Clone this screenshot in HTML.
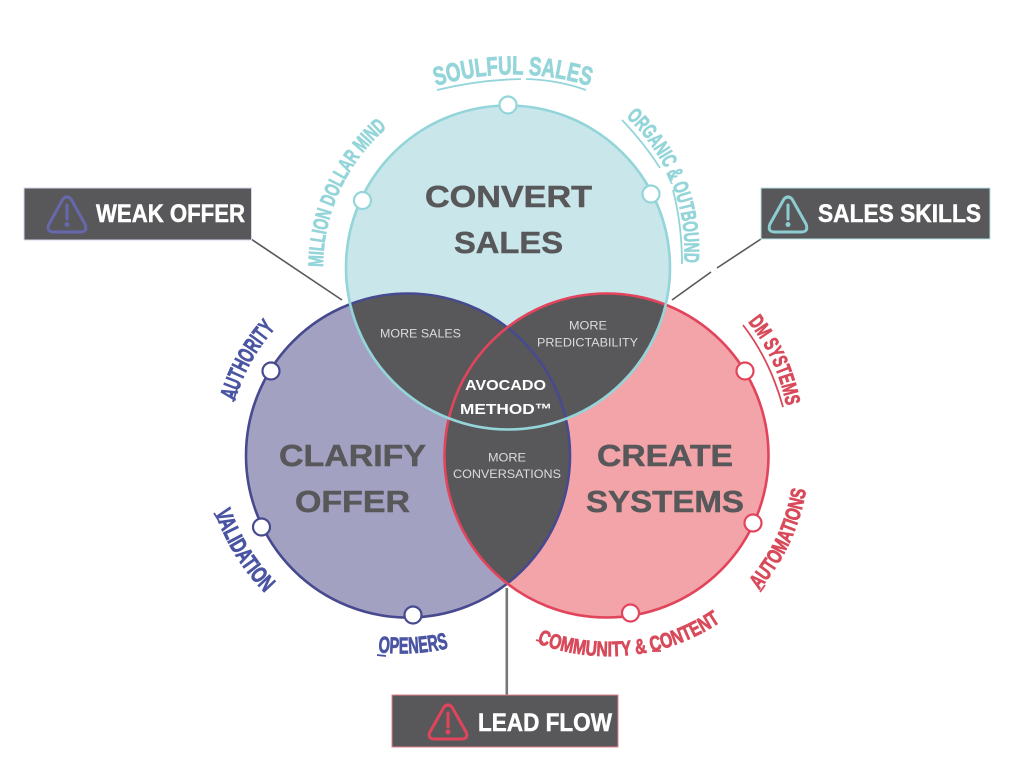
<!DOCTYPE html>
<html><head><meta charset="utf-8"><style>
html,body{margin:0;padding:0;background:#fff}
svg{display:block}
.big{font:bold 31px "Liberation Sans",sans-serif;fill:#58585a;stroke:#58585a;stroke-width:.5}
.sm{font:12px "Liberation Sans",sans-serif;fill:#dcdcdc}
.ctr{font:bold 15px "Liberation Sans",sans-serif;fill:#fff}
.box{font:bold 25px "Liberation Sans",sans-serif;fill:#fff;stroke:#fff;stroke-width:.5}
.arc{font-family:"Liberation Sans Narrow","Liberation Sans",sans-serif;font-weight:bold;stroke-width:.8}
</style></head><body>
<svg width="1024" height="768" viewBox="0 0 1024 768" xmlns="http://www.w3.org/2000/svg">
<defs>
<clipPath id="ct"><circle cx="508" cy="267.5" r="162"/></clipPath>
<clipPath id="cl"><circle cx="408" cy="455.5" r="162"/></clipPath>
<clipPath id="cr"><circle cx="606.5" cy="455.5" r="162"/></clipPath>
<path id="p1" d="M436 86 A260 260 0 0 1 590 86"/>
<path id="p2" d="M323 267 A185 185 0 0 1 389 126"/>
<path id="p3" d="M626 117 A180 180 0 0 1 684 265"/>
<path id="p4" d="M235 401 A185 185 0 0 1 273 331"/>
<path id="p5" d="M215 512 A210 210 0 0 0 265 593"/>
<path id="p6" d="M378 652 A205 205 0 0 0 449 648"/>
<path id="p7" d="M537 643 A200 200 0 0 0 719 623"/>
<path id="p8" d="M759 590 A202 202 0 0 0 806 490"/>
<path id="p9" d="M748 322 A185 185 0 0 1 786 405"/>
</defs>
<rect width="1024" height="768" fill="#fff"/>

<!-- connectors -->
<line x1="251" y1="239" x2="342" y2="300" stroke="#58585a" stroke-width="1.6"/>
<line x1="761" y1="239" x2="717" y2="268" stroke="#58585a" stroke-width="1.6"/>
<line x1="711" y1="272" x2="672" y2="300" stroke="#58585a" stroke-width="1.6"/>
<line x1="506.8" y1="588" x2="506.8" y2="696" stroke="#777" stroke-width="2.6"/>

<!-- circle fills -->
<circle cx="408" cy="455.5" r="162" fill="#a3a1c2"/>
<circle cx="606.5" cy="455.5" r="162" fill="#f3a4a9"/>
<circle cx="508" cy="267.5" r="162" fill="#c9e7ea"/>

<!-- overlaps -->
<g clip-path="url(#ct)"><circle cx="408" cy="455.5" r="162" fill="#58585a"/><circle cx="606.5" cy="455.5" r="162" fill="#58585a"/></g>
<g clip-path="url(#cl)"><circle cx="606.5" cy="455.5" r="162" fill="#58585a"/></g>

<!-- circle strokes -->
<circle cx="408" cy="455.5" r="162" fill="none" stroke="#474a8e" stroke-width="2.6"/>
<circle cx="606.5" cy="455.5" r="162" fill="none" stroke="#e2445c" stroke-width="2.6"/>
<circle cx="508" cy="267.5" r="162" fill="none" stroke="#94d5da" stroke-width="2.6"/>

<!-- dots -->
<g fill="#fff" stroke="#94d5da" stroke-width="2.2">
<circle cx="508" cy="105" r="8.5"/><circle cx="362.500" cy="200.500" r="8.5"/><circle cx="651" cy="194" r="8.5"/>
</g>
<g fill="#fff" stroke="#474a8e" stroke-width="2.2">
<circle cx="271" cy="371" r="8.5"/><circle cx="261.500" cy="527" r="8.5"/><circle cx="413" cy="615" r="8.5"/>
</g>
<g fill="#fff" stroke="#e2445c" stroke-width="2.2">
<circle cx="745" cy="371" r="8.5"/><circle cx="753" cy="523" r="8.5"/><circle cx="630.500" cy="613" r="8.5"/>
</g>

<!-- main labels -->
<text class="big" x="425" y="207" textLength="167" lengthAdjust="spacingAndGlyphs">CONVERT</text>
<text class="big" x="454" y="253" textLength="109" lengthAdjust="spacingAndGlyphs">SALES</text>
<text class="big" x="279" y="466" textLength="147" lengthAdjust="spacingAndGlyphs">CLARIFY</text>
<text class="big" x="295" y="512" textLength="115" lengthAdjust="spacingAndGlyphs">OFFER</text>
<text class="big" x="597" y="466" textLength="136" lengthAdjust="spacingAndGlyphs">CREATE</text>
<text class="big" x="586" y="512" textLength="158" lengthAdjust="spacingAndGlyphs">SYSTEMS</text>

<text class="sm" x="380" y="337.500" textLength="81" lengthAdjust="spacingAndGlyphs">MORE SALES</text>
<text class="sm" x="569" y="329.500" textLength="38" lengthAdjust="spacingAndGlyphs">MORE</text>
<text class="sm" x="537" y="346.500" textLength="101" lengthAdjust="spacingAndGlyphs">PREDICTABILITY</text>
<text class="sm" x="488" y="461.500" textLength="38" lengthAdjust="spacingAndGlyphs">MORE</text>
<text class="sm" x="453" y="478" textLength="108" lengthAdjust="spacingAndGlyphs">CONVERSATIONS</text>
<text class="ctr" x="465" y="390" textLength="81" lengthAdjust="spacingAndGlyphs">AVOCADO</text>
<text class="ctr" x="460" y="414" textLength="92" lengthAdjust="spacingAndGlyphs">METHOD™</text>

<!-- arc labels -->
<g class="arc" fill="#94d5da" stroke="#94d5da" font-size="26">
<text><textPath href="#p1" textLength="156" lengthAdjust="spacingAndGlyphs">SOULFUL SALES</textPath></text>
</g>
<g class="arc" fill="#94d5da" stroke="#94d5da" font-size="21">
<text><textPath href="#p2" textLength="158" lengthAdjust="spacingAndGlyphs">MILLION DOLLAR MIND</textPath></text>
<text><textPath href="#p3" textLength="162" lengthAdjust="spacingAndGlyphs">ORGANIC &amp; OUTBOUND</textPath></text>
</g>
<g class="arc" fill="#4a55a2" stroke="#4a55a2" font-size="23">
<text><textPath href="#p4" textLength="84" lengthAdjust="spacingAndGlyphs">AUTHORITY</textPath></text>
<text><textPath href="#p5" textLength="96" lengthAdjust="spacingAndGlyphs">VALIDATION</textPath></text>
<text><textPath href="#p6" textLength="71" lengthAdjust="spacingAndGlyphs">OPENERS</textPath></text>
</g>
<g class="arc" fill="#d84a5a" stroke="#d84a5a" font-size="21">
<text><textPath href="#p7" textLength="192" lengthAdjust="spacingAndGlyphs">COMMUNITY &amp; CONTENT</textPath></text>
<text><textPath href="#p8" textLength="112" lengthAdjust="spacingAndGlyphs">AUTOMATIONS</textPath></text>
<text><textPath href="#p9" textLength="93" lengthAdjust="spacingAndGlyphs">DM SYSTEMS</textPath></text>
</g>

<!-- arc underlines -->
<g fill="none" stroke-width="1.8" stroke-linecap="butt">
<g stroke="#94d5da">
<path d="M437 90 Q478 80 521 79"/><path d="M526 79 Q558 80 586 90"/>
<path d="M622 120 Q644 143 660 168"/><path d="M667 173 Q670 180 672 184"/><path d="M673 190 Q682 225 682 264"/>
</g>
<g stroke="#4a55a2">
<path d="M233 402 L238 385"/><path d="M214 513 L219 521"/><path d="M377 655 L386 656"/>
</g>
<g stroke="#d84a5a">
<path d="M536 640 L543 642"/><path d="M652 651 L661 651"/>
<path d="M760 592 L765 585"/><path d="M743 325 Q770 360 783 407"/>
</g>
</g>

<!-- boxes -->
<rect x="24" y="188" width="227.500" height="52" fill="#58585a" stroke="#d5d6ea" stroke-width="1"/>
<rect x="761" y="188" width="229" height="51" fill="#58585a" stroke="#b5e0e3" stroke-width="1"/>
<rect x="392" y="695" width="226" height="52" fill="#58585a" stroke="#e8808e" stroke-width="1"/>

<text class="box" x="96" y="222" textLength="149" lengthAdjust="spacingAndGlyphs">WEAK OFFER</text>
<text class="box" x="818" y="222" textLength="163" lengthAdjust="spacingAndGlyphs">SALES SKILLS</text>
<text class="box" x="478" y="731" textLength="134" lengthAdjust="spacingAndGlyphs">LEAD FLOW</text>

<!-- warning icons -->
<g fill="none" stroke="#6668ad" stroke-width="3" stroke-linecap="round" stroke-linejoin="round">
<path d="M63 199 Q67 195 71 199 L85 224 Q88 232 80 232 L54 232 Q46 232 49 224 Z"/>
<path d="M67 205 L67 219"/><circle cx="67" cy="224.500" r="1" fill="#6668ad"/>
</g>
<g fill="none" stroke="#8ccdd2" stroke-width="3" stroke-linecap="round" stroke-linejoin="round">
<path d="M784 199 Q788 195 792 199 L806 224 Q809 232 801 232 L775 232 Q767 232 770 224 Z"/>
<path d="M788 205 L788 219"/><circle cx="788" cy="224.500" r="1" fill="#8ccdd2"/>
</g>
<g fill="none" stroke="#e2445c" stroke-width="3" stroke-linecap="round" stroke-linejoin="round">
<path d="M444 707 Q448 703 452 707 L466 732 Q469 739 461 739 L435 739 Q427 739 430 732 Z"/>
<path d="M448 713 L448 727"/><circle cx="448" cy="732" r="1" fill="#e2445c"/>
</g>
</svg>
</body></html>
